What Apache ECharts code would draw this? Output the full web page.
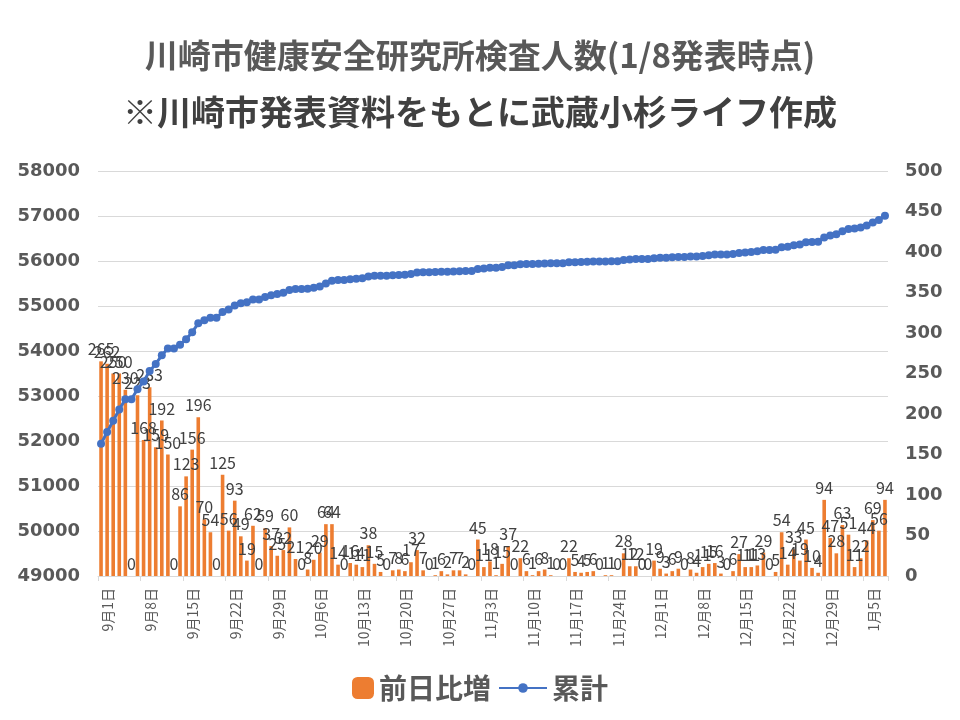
<!DOCTYPE html>
<html><head><meta charset="utf-8">
<script src="https://cdn.jsdelivr.net/npm/echarts@6/dist/echarts.min.js"></script>
<style>html,body{margin:0;padding:0;background:#fff}#c{width:960px;height:720px}</style>
</head><body><div id="c"></div>
<script>
const dates = [
"9月1日","9月2日","9月3日","9月4日","9月5日","9月6日","9月7日","9月8日","9月9日","9月10日",
"9月11日","9月12日","9月13日","9月14日","9月15日","9月16日","9月17日","9月18日","9月19日","9月20日",
"9月21日","9月22日","9月23日","9月24日","9月25日","9月26日","9月27日","9月28日","9月29日","9月30日",
"10月1日","10月2日","10月3日","10月4日","10月5日","10月6日","10月7日","10月8日","10月9日","10月10日",
"10月11日","10月12日","10月13日","10月14日","10月15日","10月16日","10月17日","10月18日","10月19日","10月20日",
"10月21日","10月22日","10月23日","10月24日","10月25日","10月26日","10月27日","10月28日","10月29日","10月30日","10月31日",
"11月1日","11月2日","11月3日","11月4日","11月5日","11月6日","11月7日","11月8日","11月9日","11月10日",
"11月11日","11月12日","11月13日","11月14日","11月15日","11月16日","11月17日","11月18日","11月19日","11月20日",
"11月21日","11月22日","11月23日","11月24日","11月25日","11月26日","11月27日","11月28日","11月29日","11月30日",
"12月1日","12月2日","12月3日","12月4日","12月5日","12月6日","12月7日","12月8日","12月9日","12月10日",
"12月11日","12月12日","12月13日","12月14日","12月15日","12月16日","12月17日","12月18日","12月19日","12月20日",
"12月21日","12月22日","12月23日","12月24日","12月25日","12月26日","12月27日","12月28日","12月29日","12月30日","12月31日",
"1月1日","1月2日","1月3日","1月4日","1月5日","1月6日","1月7日","1月8日"
];
const dailyIncrease = [
265,262,250,250,230,0,223,168,233,159,
192,150,0,86,123,156,196,70,54,0,
125,56,93,49,19,62,0,59,37,25,
32,60,21,0,8,20,29,64,64,14,
0,16,14,11,38,15,5,0,7,8,
6,17,32,7,0,1,6,2,7,7,
2,0,45,11,18,1,15,37,0,22,
6,1,6,8,1,0,0,22,5,4,
5,6,0,1,1,0,28,12,12,0,
0,19,9,3,6,9,0,8,4,11,
15,16,3,0,6,27,11,11,13,29,
0,5,54,14,33,19,45,10,4,94,
47,28,63,51,11,22,44,69,56,94
];
const cumulative = [
51937,52199,52449,52699,52929,52929,53152,53320,53553,53712,
53904,54054,54054,54140,54263,54419,54615,54685,54739,54739,
54864,54920,55013,55062,55081,55143,55143,55202,55239,55264,
55296,55356,55377,55377,55385,55405,55434,55498,55562,55576,
55576,55592,55606,55617,55655,55670,55675,55675,55682,55690,
55696,55713,55745,55752,55752,55753,55759,55761,55768,55775,
55777,55777,55822,55833,55851,55852,55867,55904,55904,55926,
55932,55933,55939,55947,55948,55948,55948,55970,55975,55979,
55984,55990,55990,55991,55992,55992,56020,56032,56044,56044,
56044,56063,56072,56075,56081,56090,56090,56098,56102,56113,
56128,56144,56147,56147,56153,56180,56191,56202,56215,56244,
56244,56249,56303,56317,56350,56369,56414,56424,56428,56522,
56569,56597,56660,56711,56722,56744,56788,56857,56913,57007
];
const leftAxis = {min: 49000, max: 58000, step: 1000};
const rightAxis = {min: 0, max: 500, step: 50};
const titleLine1 = "川崎市健康安全研究所検査人数(1/8発表時点)";
const titleLine2 = "※川崎市発表資料をもとに武蔵小杉ライフ作成";
const barName = "前日比増";
const lineName = "累計";

const FONT = '"Noto Sans CJK JP", "Noto Sans", sans-serif';
const NUMFONT = '"DejaVu Sans", sans-serif';
const chart = echarts.init(document.getElementById('c'), null, {renderer: 'canvas'});
chart.setOption({
  backgroundColor: '#ffffff',
  animation: false,
  textStyle: {fontFamily: FONT},
  title: [
    {text: titleLine1, left: 'center', top: 34,
     textStyle: {fontFamily: FONT, fontSize: 33, fontWeight: 'bold', color: '#595959'}},
    {text: titleLine2, left: 'center', top: 90,
     textStyle: {fontFamily: FONT, fontSize: 34, fontWeight: 'bold', color: '#404040'}}
  ],
  legend: [
    {data: [barName], left: 347, top: 669, itemWidth: 22, itemHeight: 22, itemGap: 8,
     textStyle: {fontFamily: FONT, fontSize: 28, fontWeight: 'bold', color: '#595959'}},
    {data: [lineName], left: 493, top: 669, itemWidth: 48, itemHeight: 12, itemGap: 6,
     textStyle: {fontFamily: FONT, fontSize: 28, fontWeight: 'bold', color: '#595959'}}
  ],
  grid: {left: 98, right: 72, top: 171, bottom: 144, containLabel: false},
  xAxis: {
    type: 'category', data: dates, boundaryGap: true,
    axisLine: {show: true, lineStyle: {color: '#D9D9D9', width: 1}},
    axisTick: {show: true, interval: 6, length: 5, lineStyle: {color: '#D9D9D9'}},
    axisLabel: {interval: 6, rotate: 90, fontSize: 14, color: '#595959', margin: 12,
      fontFamily: FONT, verticalAlign: 'top'}
  },
  yAxis: [
    {type: 'value', min: leftAxis.min, max: leftAxis.max, interval: leftAxis.step,
     axisLine: {show: false}, axisTick: {show: false},
     splitLine: {show: true, lineStyle: {color: '#D9D9D9', width: 1}},
     axisLabel: {fontSize: 18, fontWeight: 'bold', color: '#595959', margin: 18, fontFamily: NUMFONT,
       formatter: function (v) { return String(v); }}},
    {type: 'value', min: rightAxis.min, max: rightAxis.max, interval: rightAxis.step,
     axisLine: {show: false}, axisTick: {show: false}, splitLine: {show: false},
     axisLabel: {fontSize: 18, fontWeight: 'bold', color: '#595959', margin: 17, fontFamily: NUMFONT,
       formatter: function (v) { return String(v); }}}
  ],
  series: [
    {name: barName, type: 'bar', yAxisIndex: 1, data: dailyIncrease, z: 2,
     barWidth: 3.6,
     itemStyle: {color: '#ED7D31'},
     label: {show: true, position: 'top', distance: 4, fontSize: 16, color: '#404040', fontFamily: FONT}},
    {name: lineName, type: 'line', yAxisIndex: 0, data: cumulative, z: 3,
     symbol: 'circle', symbolSize: 8, showSymbol: true, showAllSymbol: true,
     lineStyle: {color: '#4472C4', width: 3},
     itemStyle: {color: '#4472C4'}}
  ]
});
</script></body></html>
